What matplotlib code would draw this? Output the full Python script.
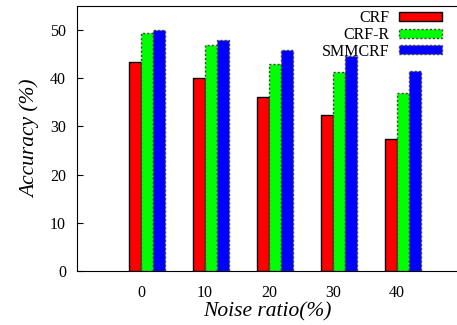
import numpy as np
import matplotlib
matplotlib.use("Agg")
import matplotlib.pyplot as plt

noise = ["0", "10", "20", "30", "40"]
crf = [43.3, 40.1, 36.2, 32.4, 27.5]
crf_r = [49.4, 47.0, 42.9, 41.3, 37.0]
smmcrf = [50.0, 47.9, 45.8, 44.6, 41.5]

plt.rcParams['font.family'] = ['Liberation Serif', 'DejaVu Serif']

fig = plt.figure(figsize=(4.57, 3.25), dpi=100)
ax = fig.add_axes([77 / 457, 54 / 325, 380 / 457, 265 / 325])

x = np.arange(len(noise))
w = 0.19
ax.bar(x - w / 2, crf, w, color='#ff0000', edgecolor='black', linewidth=1.0, label='CRF')
ax.bar(x + w / 2, crf_r, w, color='#00ff00', edgecolor='#444444', linewidth=1.0,
       linestyle=(0, (1.5, 1.5)), label='CRF-R')
ax.bar(x + 1.5 * w, smmcrf, w, color='#0000ff', edgecolor='#444444', linewidth=1.0,
       linestyle=(0, (1.5, 1.5)), label='SMMCRF')

ax.set_xlim(-1.0, 4.94)
ax.set_ylim(0, 55)
ax.set_yticks([0, 10, 20, 30, 40, 50])
ax.set_xticks(x)
ax.set_xticklabels(noise)
ax.tick_params(axis='y', direction='in', length=4, labelsize=11.5, pad=8)
ax.tick_params(axis='x', length=0, labelsize=11.5, pad=10)
ax.spines['right'].set_visible(False)

ax.set_xlabel('Noise ratio(%)', fontsize=15.5, style='italic', labelpad=1)
ax.set_ylabel('Accuracy (%)', fontsize=15.5, style='italic', labelpad=7)

ax.legend(loc='upper right', bbox_to_anchor=(0.9605, 0.985), frameon=False,
          fontsize=11.5, markerfirst=False, handlelength=2.7, handleheight=0.5,
          labelspacing=0.05, handletextpad=0.6, borderaxespad=0, borderpad=0)

fig.savefig('out.png', dpi=100)
